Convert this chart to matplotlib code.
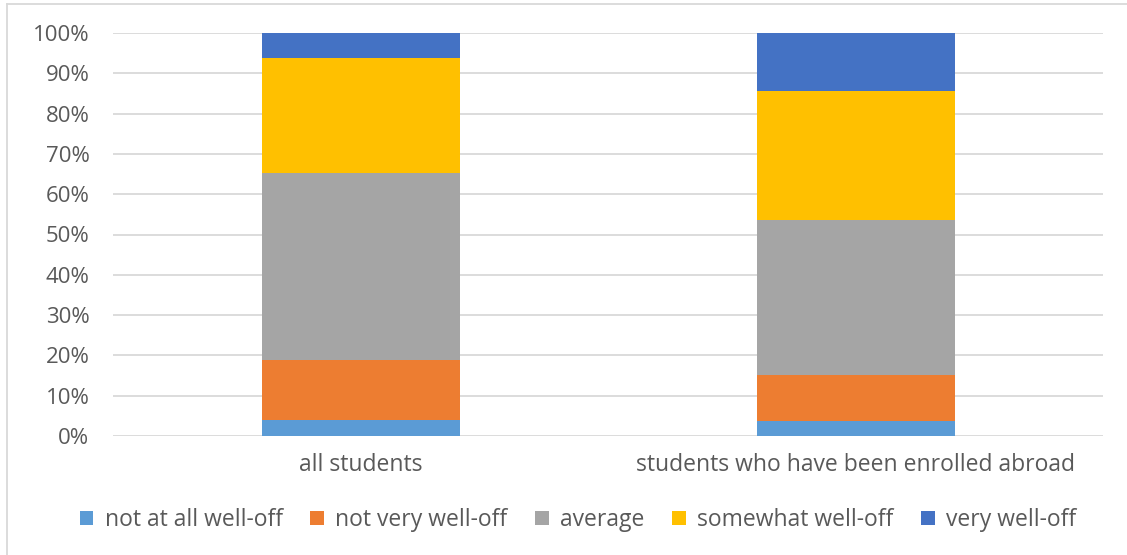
import matplotlib
matplotlib.use("Agg")
import matplotlib.pyplot as plt
from matplotlib.lines import Line2D
from matplotlib.ticker import PercentFormatter

categories = ["all students", "students who have been enrolled abroad"]
series_names = ["not at all well-off", "not very well-off", "average",
                "somewhat well-off", "very well-off"]
not_at_all = [4.0, 3.7]
not_very = [14.9, 11.5]
average = [46.3, 38.5]
somewhat = [28.6, 31.9]
very = [6.2, 14.4]
colors = ["#5b9bd5", "#ed7d31", "#a5a5a5", "#ffc000", "#4472c4"]

plt.rcParams["font.family"] = ["Open Sans", "DejaVu Sans"]

fig = plt.figure(figsize=(11.27, 5.55), dpi=100)
ax = fig.add_axes([113 / 1127, 1 - 436 / 555, 990 / 1127, 403 / 555])

x = range(len(categories))
bottom = [0.0] * len(categories)
for name, vals, c in zip(series_names, [not_at_all, not_very, average, somewhat, very], colors):
    ax.bar(x, vals, width=0.4, bottom=bottom, color=c, label=name, zorder=3)
    bottom = [b + v for b, v in zip(bottom, vals)]

ax.set_xlim(-0.5, 1.5)
ax.set_ylim(0, 100)
ax.set_yticks(range(0, 101, 10))
ax.yaxis.set_major_formatter(PercentFormatter(decimals=0))
ax.set_xticks(list(x))
ax.set_xticklabels(categories)
ax.grid(axis="y", color="#d9d9d9", linewidth=1.3, zorder=0)
for s in ax.spines.values():
    s.set_visible(False)
ax.tick_params(length=0, colors="#595959", labelsize=16)
ax.tick_params(axis="x", labelsize=16.5, pad=12)
ax.tick_params(axis="y", pad=17)

fig.legend(loc="center", bbox_to_anchor=(578 / 1127, 1 - 520 / 555), ncol=5,
           frameon=False, fontsize=16.5, labelcolor="#595959", handlelength=0.6,
           handleheight=0.6, handletextpad=0.5, columnspacing=1.2)

# chart area border (left and top edges visible)
fig.add_artist(Line2D([7 / 1127, 7 / 1127], [0, 1 - 4 / 555], transform=fig.transFigure,
                      color="#d9d9d9", linewidth=1.3))
fig.add_artist(Line2D([7 / 1127, 1], [1 - 4 / 555, 1 - 4 / 555], transform=fig.transFigure,
                      color="#d9d9d9", linewidth=1.3))

fig.savefig("out.png", dpi=100)
